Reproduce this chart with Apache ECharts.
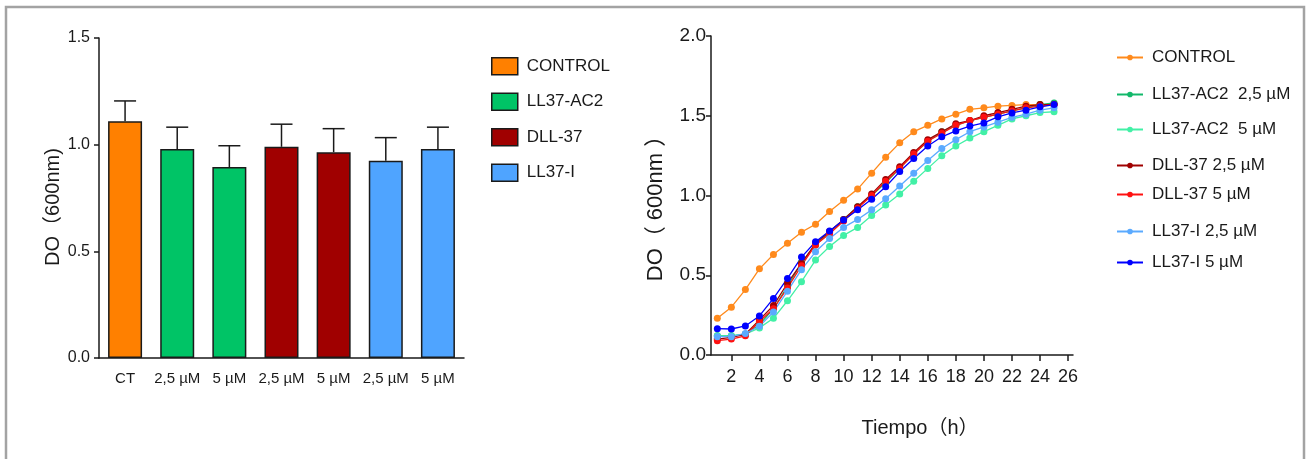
<!DOCTYPE html>
<html>
<head>
<meta charset="utf-8">
<script src="https://cdn.jsdelivr.net/npm/echarts@6/dist/echarts.min.js"></script>
<style>
html, body { margin: 0; padding: 0; background: #fff; }
#main { width: 1309px; height: 459px; }
</style>
</head>
<body>
<div id="main"></div>
<script>
// ---- bar chart data (left) ----
var barCats = ['CT', '2,5 µM', '5 µM', '2,5 µM', '5 µM', '2,5 µM', '5 µM'];
var barMeans = [1.11, 0.98, 0.895, 0.99, 0.965, 0.925, 0.98];
var barErrs = [0.095, 0.102, 0.10, 0.106, 0.11, 0.108, 0.102];
var barGroupOf = ['CONTROL', 'LL37-AC2', 'LL37-AC2', 'DLL-37', 'DLL-37', 'LL37-I', 'LL37-I'];
var barGroups = ['CONTROL', 'LL37-AC2', 'DLL-37', 'LL37-I'];
var barColors = ['#ff8000', '#00c466', '#a00000', '#4fa4ff'];

// ---- growth curves (right) ----
var hours = [1, 2, 3, 4, 5, 6, 7, 8, 9, 10, 11, 12, 13, 14, 15, 16, 17, 18, 19, 20, 21, 22, 23, 24, 25];
var hourTicks = [2, 4, 6, 8, 10, 12, 14, 16, 18, 20, 22, 24, 26];
var control = [0.23, 0.30, 0.41, 0.54, 0.63, 0.70, 0.77, 0.82, 0.90, 0.97, 1.04, 1.14, 1.24, 1.33, 1.40, 1.44, 1.48, 1.51, 1.54, 1.55, 1.56, 1.565, 1.57, 1.57, 1.57];
var ac2_25 = [0.12, 0.12, 0.13, 0.19, 0.29, 0.43, 0.58, 0.69, 0.77, 0.85, 0.93, 1.00, 1.08, 1.17, 1.26, 1.34, 1.40, 1.44, 1.47, 1.49, 1.51, 1.53, 1.55, 1.57, 1.58];
var ac2_5 = [0.12, 0.12, 0.13, 0.17, 0.23, 0.34, 0.46, 0.595, 0.68, 0.75, 0.80, 0.875, 0.94, 1.01, 1.09, 1.17, 1.25, 1.31, 1.36, 1.40, 1.44, 1.48, 1.50, 1.52, 1.525];
var dll_25 = [0.10, 0.11, 0.13, 0.22, 0.31, 0.45, 0.575, 0.70, 0.775, 0.85, 0.93, 1.01, 1.10, 1.18, 1.27, 1.35, 1.40, 1.45, 1.47, 1.50, 1.52, 1.54, 1.56, 1.57, 1.57];
var dll_5 = [0.09, 0.10, 0.12, 0.21, 0.29, 0.42, 0.56, 0.69, 0.76, 0.84, 0.92, 1.00, 1.09, 1.17, 1.26, 1.34, 1.39, 1.44, 1.47, 1.49, 1.51, 1.53, 1.55, 1.56, 1.57];
var lli_25 = [0.115, 0.115, 0.135, 0.18, 0.27, 0.40, 0.535, 0.647, 0.73, 0.80, 0.85, 0.91, 0.98, 1.06, 1.14, 1.22, 1.295, 1.35, 1.40, 1.43, 1.46, 1.49, 1.51, 1.535, 1.55];
var lli_5 = [0.165, 0.163, 0.182, 0.245, 0.355, 0.48, 0.614, 0.71, 0.777, 0.846, 0.91, 0.976, 1.055, 1.15, 1.232, 1.31, 1.368, 1.405, 1.435, 1.455, 1.493, 1.518, 1.535, 1.556, 1.57];

// trailing space on 'CONTROL ' keeps it apart from the bar series of the same name
var lineNames = ['CONTROL ', 'LL37-AC2  2,5 µM', 'LL37-AC2  5 µM', 'DLL-37 2,5 µM', 'DLL-37 5 µM', 'LL37-I 2,5 µM', 'LL37-I 5 µM'];
var lineValues = [control, ac2_25, ac2_5, dll_25, dll_5, lli_25, lli_5];
var lineColors = ['#ff8a1c', '#12b86a', '#42f0a6', '#a00000', '#ff1010', '#5aaaff', '#0000ff'];
var legendTops = [44, 81, 116, 152, 181, 218, 249];

var FONT = "'Liberation Sans', Arial, 'Noto Sans CJK SC', sans-serif";
var INK = '#1a1a1a';

var chart = echarts.init(document.getElementById('main'));

var series = [];
barGroups.forEach(function (g, gi) {
    series.push({
        name: g,
        type: 'bar',
        stack: 'bars',
        xAxisIndex: 0,
        yAxisIndex: 0,
        barWidth: 34,
        itemStyle: { color: barColors[gi], borderColor: INK, borderWidth: 1.5 },
        data: barMeans.map(function (m, i) { return barGroupOf[i] === g ? m : '-'; })
    });
});

// upper error bars
series.push({
    type: 'custom',
    xAxisIndex: 0,
    yAxisIndex: 0,
    z: 5,
    encode: { x: 0, y: [1, 2] },
    data: barMeans.map(function (m, i) { return [i, m, m + barErrs[i]]; }),
    renderItem: function (params, api) {
        var p0 = api.coord([api.value(0), api.value(1)]);
        var p1 = api.coord([api.value(0), api.value(2)]);
        var st = { stroke: INK, lineWidth: 1.5 };
        return {
            type: 'group',
            children: [
                { type: 'line', shape: { x1: p0[0], y1: p0[1], x2: p1[0], y2: p1[1] }, style: st },
                { type: 'line', shape: { x1: p1[0] - 11, y1: p1[1], x2: p1[0] + 11, y2: p1[1] }, style: st }
            ]
        };
    }
});

lineNames.forEach(function (n, i) {
    series.push({
        name: n,
        type: 'line',
        xAxisIndex: 1,
        yAxisIndex: 1,
        symbol: 'circle',
        symbolSize: 7,
        color: lineColors[i],
        lineStyle: { width: 1.3 },
        data: hours.map(function (h, k) { return [h, lineValues[i][k]]; })
    });
});

var legends = [{
    data: barGroups,
    orient: 'vertical',
    left: 486,
    top: 52,
    icon: 'rect',
    itemWidth: 26,
    itemHeight: 17,
    itemGap: 17,
    itemStyle: { borderColor: INK, borderWidth: 1.5 },
    textStyle: { fontFamily: FONT, fontSize: 17, color: INK, padding: [0, 0, 0, 4] },
    selectedMode: false
}];
lineNames.forEach(function (n, i) {
    legends.push({
        data: [n],
        left: 1111,
        top: legendTops[i],
        itemWidth: 26,
        itemHeight: 7,
        textStyle: { fontFamily: FONT, fontSize: 17, color: INK, padding: [0, 0, 0, 4] },
        selectedMode: false
    });
});

option = {
    animation: false,
    backgroundColor: '#fff',
    textStyle: { fontFamily: FONT },
    graphic: [{
        type: 'rect',
        shape: { x: 6, y: 7, width: 1298, height: 480 },
        style: { fill: 'none', stroke: '#a3a3a3', lineWidth: 2.5 },
        silent: true
    }],
    legend: legends,
    grid: [
        { left: 99, top: 38, right: 845, bottom: 101 },
        { left: 711, top: 36, right: 236, bottom: 104 }
    ],
    xAxis: [
        {
            type: 'category',
            gridIndex: 0,
            data: barCats,
            axisLine: { lineStyle: { color: INK, width: 1.5 } },
            axisTick: { alignWithLabel: true, length: 5, lineStyle: { color: INK, width: 1.5 } },
            axisLabel: { fontSize: 15, color: INK, margin: 13, interval: 0 }
        },
        {
            type: 'value',
            gridIndex: 1,
            min: 0.55,
            max: 26.35,
            splitLine: { show: false },
            axisLine: { onZero: false, lineStyle: { color: INK, width: 1.5 } },
            axisTick: { length: 6, customValues: hourTicks, lineStyle: { color: INK, width: 1.5 } },
            axisLabel: { fontSize: 18, color: INK, margin: 13, customValues: hourTicks },
            name: 'Tiempo（h）',
            nameLocation: 'middle',
            nameGap: 63,
            nameTextStyle: { fontSize: 20, color: INK, padding: [0, 0, 0, 56] }
        }
    ],
    yAxis: [
        {
            type: 'value',
            gridIndex: 0,
            min: 0,
            max: 1.5,
            interval: 0.5,
            splitLine: { show: false },
            axisLine: { show: true, lineStyle: { color: INK, width: 1.5 } },
            axisTick: { show: true, length: 5, lineStyle: { color: INK, width: 1.5 } },
            axisLabel: { fontSize: 16, color: INK, margin: 9, formatter: function (v) { return v.toFixed(1); } },
            name: 'DO（600nm)',
            nameLocation: 'middle',
            nameGap: 36,
            nameTextStyle: { fontSize: 20, color: INK, padding: [0, 18, 0, 0] }
        },
        {
            type: 'value',
            gridIndex: 1,
            min: 0,
            max: 2,
            interval: 0.5,
            splitLine: { show: false },
            axisLine: { show: true, onZero: false, lineStyle: { color: INK, width: 1.5 } },
            axisTick: { show: true, length: 5, lineStyle: { color: INK, width: 1.5 } },
            axisLabel: { fontSize: 19, color: INK, margin: 5, formatter: function (v) { return v.toFixed(1); } },
            name: 'DO（ 600nm ）',
            nameLocation: 'middle',
            nameGap: 44,
            nameTextStyle: { fontSize: 22, color: INK, padding: [0, 15, 0, 0] }
        }
    ],
    series: series
};

chart.setOption(option);
</script>
</body>
</html>
